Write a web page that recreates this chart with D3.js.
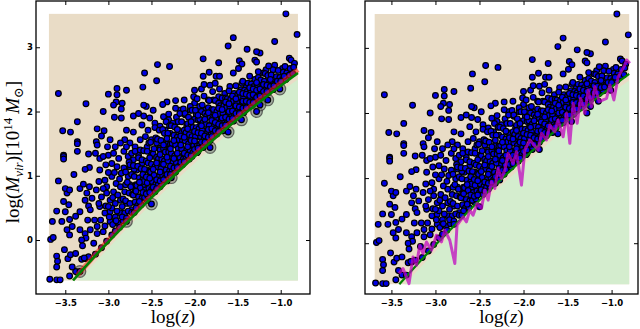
<!DOCTYPE html>
<html>
<head>
<meta charset="utf-8">
<script src="https://cdn.jsdelivr.net/npm/d3@7"></script>
<style>
  body { margin: 0; background: #fff; }
  svg { display: block; }
  .tick text { font-family: 'DejaVu Sans', sans-serif; font-weight: bold; font-size: 8.5px; fill: #000; }
  .axlabel { font-family: 'Liberation Serif', 'DejaVu Serif', serif; font-size: 19px; fill: #000; }
</style>
</head>
<body>
<svg id="chart" width="640" height="329"></svg>
<script>
// ---- data (log z, log M_vir) ----
var xTicks = [-3.5, -3.0, -2.5, -2.0, -1.5, -1.0];
var yTicks = [0, 1, 2, 3];

// extent of the sample (tan box)
var sampleX = [-3.69, -0.80];
var sampleY = [-0.63, 3.52];

// mass limit curve (green) and its red twin
var limitX = [-3.41, -3.1, -2.8, -2.5, -2.2, -1.9, -1.6, -1.3, -1.0, -0.8];
var limitY = [-0.63, -0.17, 0.25, 0.66, 1.05, 1.42, 1.77, 2.09, 2.40, 2.60];
var redX = [-3.36, -3.1, -2.8, -2.5, -2.2, -1.9, -1.6, -1.3, -1.0, -0.8];
var redY = [-0.55, -0.15, 0.28, 0.69, 1.08, 1.45, 1.80, 2.13, 2.44, 2.65];
// upper edge of the green (excluded) region
var fillX = [-3.35, -3.1, -2.8, -2.5, -2.2, -1.9, -1.6, -1.3, -1.0, -0.8];
var fillY = [-0.63, -0.27, 0.16, 0.57, 0.95, 1.32, 1.67, 2.00, 2.31, 2.50];

// magenta running curve, right panel
var magX = [-3.414, -3.368, -3.300, -3.255, -3.216, -3.178, -3.141, -3.102, -3.045, -2.989, -2.932, -2.894, -2.837, -2.780, -2.755,
  -2.686, -2.648, -2.610, -2.573, -2.527, -2.477, -2.440, -2.402, -2.364, -2.326, -2.289, -2.250, -2.212, -2.175, -2.118, -2.080,
  -2.023, -1.985, -1.928, -1.834, -1.795, -1.739, -1.701, -1.644, -1.607, -1.550, -1.511, -1.474, -1.436, -1.391, -1.352, -1.303,
  -1.266, -1.227, -1.190, -1.141, -1.057, -1.019, -0.974, -0.925, -0.849, -0.830, -0.792];
var magY = [-0.466, -0.389, -0.620, -0.211, -0.338, -0.031, -0.158, 0.020, -0.108, 0.123, 0.020, 0.200, 0.046, -0.312, 0.277,
  0.405, 0.328, 0.508, 0.431, 0.611, 0.534, 0.815, 0.662, 0.943, 0.842, 1.149, 0.995, 1.123, 1.380, 1.226, 1.405,
  0.892, 1.431, 1.585, 1.431, 1.688, 1.585, 1.815, 1.712, 1.892, 1.635, 1.995, 1.534, 2.149, 1.842, 2.226, 1.995,
  2.354, 2.097, 2.405, 2.174, 2.226, 2.431, 2.200, 2.558, 2.738, 2.815, 2.764];

// clusters sitting on the limit (ringed in the left panel)
var ringPts = [[-3.33, -0.49], [-2.79, 0.29], [-2.50, 0.56], [-2.27, 0.97], [-1.82, 1.44], [-1.61, 1.68],
  [-1.455, 1.87], [-1.28, 2.00], [-1.15, 2.18], [-1.24, 2.10], [-1.01, 2.35]];

// scattered clusters
var scatterPts = [
  [-0.94, 3.52], [-0.81, 3.20], [-1.55, 3.15], [-1.61, 3.02], [-1.07, 3.09], [-1.39, 2.97], [-1.30, 2.80], [-1.28, 2.77],
  [-1.48, 2.79], [-1.90, 2.82], [-1.24, 2.91], [-1.28, 2.93], [-1.72, 2.76], [-2.43, 2.73], [-2.29, 2.70], [-2.58, 2.60],
  [-2.44, 2.48], [-0.90, 2.83], [-0.88, 2.80], [-0.84, 2.75], [-0.98, 2.67], [-1.07, 2.72], [-1.09, 2.65], [-1.17, 2.65],
  [-1.14, 2.71], [-1.20, 2.60], [-1.26, 2.62], [-1.45, 2.74], [-1.49, 2.67], [-1.55, 2.60], [-0.99, 2.53], [-1.12, 2.35],
  [-1.83, 2.61], [-1.90, 2.55], [-1.75, 2.55], [-1.71, 2.55], [-2.00, 2.33], [-1.92, 2.35], [-1.89, 2.42], [-1.82, 2.41],
  [-1.76, 2.44], [-2.01, 2.23], [-2.12, 2.18], [-2.22, 2.17], [-2.32, 2.15], [-2.37, 2.11], [-2.48, 2.02], [-2.56, 2.08],
  [-2.59, 2.10], [-2.60, 2.38], [-2.90, 2.36], [-2.90, 2.26], [-2.79, 2.33], [-3.00, 2.27], [-2.91, 2.15], [-2.94, 2.10],
  [-2.84, 2.13], [-2.85, 2.04], [-2.85, 1.90], [-2.93, 1.91], [-3.06, 2.00], [-3.26, 2.12], [-2.71, 1.93], [-2.65, 1.97],
  [-2.59, 1.93], [-2.61, 1.79], [-3.13, 1.73], [-3.05, 1.70], [-2.79, 1.71], [-2.71, 1.68], [-3.53, 1.70], [-3.44, 1.68],
  [-3.36, 1.84], [-3.36, 1.53], [-3.36, 1.50], [-3.36, 1.38], [-3.52, 1.32], [-3.52, 1.30], [-3.52, 1.26], [-3.58, 0.92],
  [-3.58, 2.28], [-3.14, 1.53], [-3.13, 1.48], [-3.08, 1.62], [-3.01, 1.45], [-3.00, 1.32], [-3.15, 1.35], [-3.10, 1.27],
  [-3.23, 1.34], [-3.22, 1.13], [-3.27, 1.10], [-3.40, 1.02], [-3.60, 0.45], [-3.65, 0.29], [-3.54, 0.29], [-3.67, 0.01],
  [-3.64, 0.04], [-3.60, -0.25], [-3.59, -0.33], [-3.60, -0.42], [-3.68, -0.61], [-3.60, -0.62], [-3.56, -0.62], [-3.45, -0.56],
  [-3.38, -0.49], [-3.42, -0.42], [-3.47, -0.29], [-3.44, -0.23], [-3.38, -0.21], [-3.51, -0.15], [-3.31, -0.30], [-3.27, -0.29],
  [-3.23, -0.26], [-3.30, -0.09], [-3.45, 0.08], [-3.48, 0.16], [-3.42, 0.21], [-3.33, 0.16], [-3.45, 0.32], [-3.38, 0.37],
  [-3.33, 0.44], [-3.50, 0.44], [-3.46, 0.55], [-3.52, 0.60], [-3.48, 0.73], [-3.50, 0.80], [-3.45, 0.78], [-3.33, 0.80],
  [-3.29, 0.87], [-3.25, 0.73], [-3.27, 0.62], [-3.19, 0.65], [-3.22, 0.83], [-3.14, 0.78], [-3.23, 0.53], [-3.21, 0.47],
  [-3.24, 0.31], [-3.16, 0.31], [-3.13, 0.21], [-3.21, 0.16], [-3.27, 0.10], [-3.26, 0.03], [-3.31, 0.00], [-3.13, 0.10],
  [-3.06, 0.13], [-3.09, 0.31], [-3.04, 0.42], [-3.10, 0.52], [-3.03, 0.53], [-2.98, 0.44], [-2.92, 0.36], [-2.98, 0.29],
  [-2.88, 0.26], [-2.86, 0.42], [-2.81, 0.42], [-2.73, 0.47], [-2.67, 0.57], [-2.63, 0.67], [-2.71, 0.70], [-2.79, 0.57],
  [-2.86, 0.62], [-2.92, 0.57], [-2.98, 0.62], [-3.02, 0.73], [-3.08, 0.67], [-3.11, 0.57], [-3.11, 0.91], [-3.04, 0.93],
  [-3.02, 0.83], [-2.96, 0.99], [-2.91, 0.88], [-2.94, 0.75], [-2.86, 0.83], [-2.81, 0.75], [-2.75, 0.86], [-2.69, 0.78],
  [-2.77, 0.99], [-2.85, 1.04], [-2.90, 1.14], [-2.96, 1.19], [-3.03, 1.17], [-3.10, 1.09], [-3.06, 1.30], [-2.94, 1.35],
  [-2.88, 1.27], [-2.82, 1.38], [-2.77, 1.30], [-2.71, 1.25], [-2.75, 1.14], [-2.67, 1.09], [-2.63, 0.96], [-2.59, 0.86],
  [-2.54, 0.75], [-2.55, 0.62], [-2.48, 0.86], [-2.44, 0.93], [-2.50, 1.01], [-2.55, 1.09], [-2.61, 1.19], [-2.65, 1.32],
  [-2.69, 1.45], [-2.75, 1.51], [-2.81, 1.56], [-2.86, 1.51], [-2.92, 1.45], [-2.98, 1.56], [-2.63, 1.56], [-2.55, 1.45],
  [-2.50, 1.35], [-2.44, 1.27], [-2.40, 1.17], [-2.34, 1.09], [-2.36, 0.99], [-2.40, 0.83], [-2.32, 0.92], [-2.50, 1.56],
  [-2.44, 1.51], [-2.40, 1.43], [-2.34, 1.40], [-2.28, 1.30], [-2.25, 1.19], [-2.21, 1.12], [-2.15, 1.30], [-2.09, 1.35],
  [-2.17, 1.45], [-2.23, 1.56], [-2.28, 1.66], [-2.34, 1.71], [-2.40, 1.77], [-2.46, 1.82], [-2.52, 1.90], [-2.54, 1.71],
  [-2.36, 1.92], [-2.30, 1.87], [-2.25, 1.82], [-2.19, 1.71], [-2.13, 1.66], [-2.07, 1.56], [-2.01, 1.45], [-1.96, 1.38],
  [-1.90, 1.44], [-2.03, 1.30], [-1.97, 1.36], [-2.17, 2.02], [-2.11, 1.95], [-2.05, 2.02], [-2.00, 2.13], [-1.94, 2.08],
  [-1.98, 1.95], [-2.03, 1.87], [-2.09, 1.77], [-2.01, 1.71], [-1.94, 1.77], [-1.90, 1.66], [-1.96, 1.61], [-1.84, 1.61],
  [-1.78, 1.66], [-1.74, 1.77], [-1.80, 1.82], [-1.86, 1.92], [-1.78, 1.97], [-1.71, 1.87], [-1.67, 1.97], [-1.63, 2.08],
  [-1.69, 2.13], [-1.59, 2.18], [-1.55, 2.08], [-1.51, 2.18], [-1.47, 2.26], [-1.42, 2.18], [-1.38, 2.28], [-1.32, 2.18],
  [-1.28, 2.34], [-1.22, 2.28], [-1.17, 2.39], [-1.20, 2.44], [-1.32, 2.44], [-1.40, 2.39], [-1.45, 2.44], [-1.59, 2.39],
  [-1.65, 2.28], [-1.72, 2.23], [-1.78, 2.18], [-1.84, 2.18], [-1.88, 2.02], [-1.59, 1.92], [-1.55, 1.85], [-1.63, 1.77],
  [-1.67, 1.70], [-1.51, 1.92], [-1.45, 2.02], [-1.38, 2.08], [-1.32, 2.12], [-1.43, 1.98], [-1.26, 2.16], [-1.20, 2.25],
  [-1.14, 2.30], [-1.09, 2.34], [-3.28, -0.28], [-3.15, -0.22], [-3.08, -0.12], [-3.02, -0.02], [-2.96, 0.08], [-2.92, 0.14],
  [-2.87, 0.20], [-2.83, 0.30], [-3.17, -0.05], [-3.04, 0.22], [-2.95, 0.24], [-2.90, 0.45], [-2.84, 0.52], [-2.96, 0.50],
  [-2.99, 0.36], [-2.95, 0.66], [-2.89, 0.70], [-2.83, 0.64], [-2.80, 0.86], [-2.87, 0.95], [-2.93, 1.05], [-2.82, 1.12],
  [-2.79, 1.45], [-2.73, 1.35], [-2.70, 1.10], [-2.84, 0.36], [-2.91, 0.30], [-3.00, 0.52], [-3.06, 0.80], [-3.00, 1.05]
];

// the crowded band just above the limit, read strip by strip
var bandPts = [
  [-2.79, 0.34], [-2.77, 0.45], [-2.80, 0.61], [-2.76, 0.73], [-2.78, 0.90], [-2.80, 1.06], [-2.76, 1.21],
  [-2.73, 0.43], [-2.75, 0.57], [-2.72, 0.71], [-2.74, 0.83], [-2.73, 1.02], [-2.75, 1.17],
  [-2.70, 0.43], [-2.69, 0.59], [-2.71, 0.70], [-2.68, 0.86], [-2.70, 0.99], [-2.71, 1.16], [-2.69, 1.38],
  [-2.66, 0.54], [-2.65, 0.67], [-2.67, 0.85], [-2.64, 0.97], [-2.66, 1.15], [-2.65, 1.28],
  [-2.62, 0.55], [-2.61, 0.65], [-2.63, 0.81], [-2.60, 0.94], [-2.62, 1.11], [-2.61, 1.25], [-2.63, 1.40],
  [-2.58, 0.66], [-2.57, 0.78], [-2.59, 0.91], [-2.58, 1.10], [-2.56, 1.23], [-2.59, 1.39], [-2.57, 1.61],
  [-2.54, 0.68], [-2.53, 0.80], [-2.55, 0.89], [-2.52, 1.07], [-2.54, 1.20], [-2.55, 1.38], [-2.53, 1.51],
  [-2.50, 0.78], [-2.49, 0.91], [-2.51, 1.06], [-2.50, 1.18], [-2.48, 1.34], [-2.51, 1.52],
  [-2.46, 0.75], [-2.45, 0.87], [-2.47, 1.01], [-2.46, 1.14], [-2.44, 1.29], [-2.47, 1.42], [-2.45, 1.59], [-2.46, 1.75],
  [-2.42, 0.86], [-2.41, 0.98], [-2.43, 1.14], [-2.42, 1.26], [-2.40, 1.40], [-2.43, 1.57], [-2.41, 1.71],
  [-2.38, 0.87], [-2.37, 1.00], [-2.39, 1.11], [-2.38, 1.26], [-2.36, 1.42], [-2.39, 1.55], [-2.37, 1.72],
  [-2.34, 0.97], [-2.33, 1.09], [-2.35, 1.23], [-2.34, 1.37], [-2.32, 1.50], [-2.35, 1.66], [-2.33, 1.84],
  [-2.30, 0.98], [-2.29, 1.07], [-2.31, 1.23], [-2.30, 1.37], [-2.28, 1.49], [-2.31, 1.66], [-2.29, 1.78], [-2.30, 1.96],
  [-2.26, 1.08], [-2.25, 1.21], [-2.27, 1.35], [-2.26, 1.50], [-2.24, 1.63], [-2.27, 1.78],
  [-2.22, 1.06], [-2.21, 1.20], [-2.23, 1.31], [-2.22, 1.48], [-2.20, 1.60], [-2.23, 1.76], [-2.21, 1.91], [-2.22, 2.05],
  [-2.18, 1.15], [-2.17, 1.28], [-2.19, 1.42], [-2.18, 1.56], [-2.16, 1.68], [-2.19, 1.84], [-2.17, 1.97],
  [-2.14, 1.17], [-2.13, 1.26], [-2.15, 1.42], [-2.14, 1.55], [-2.12, 1.71], [-2.15, 1.84], [-2.13, 2.04],
  [-2.10, 1.27], [-2.09, 1.40], [-2.11, 1.54], [-2.10, 1.67], [-2.08, 1.81], [-2.11, 1.97],
  [-2.06, 1.26], [-2.05, 1.39], [-2.07, 1.50], [-2.06, 1.64], [-2.04, 1.79], [-2.07, 1.91], [-2.05, 2.08],
  [-2.02, 1.36], [-2.01, 1.47], [-2.03, 1.61], [-2.02, 1.75], [-2.00, 1.88], [-2.03, 2.02],
  [-1.98, 1.38], [-1.97, 1.48], [-1.99, 1.61], [-1.98, 1.75], [-1.96, 1.87], [-1.99, 2.02], [-1.97, 2.20],
  [-1.94, 1.48], [-1.93, 1.61], [-1.95, 1.73], [-1.94, 1.88], [-1.92, 2.00],
  [-1.90, 1.47], [-1.89, 1.57], [-1.91, 1.71], [-1.90, 1.83], [-1.88, 1.97], [-1.91, 2.10], [-1.89, 2.24],
  [-1.86, 1.55], [-1.85, 1.67], [-1.87, 1.80], [-1.86, 1.93], [-1.84, 2.06],
  [-1.82, 1.55], [-1.81, 1.64], [-1.83, 1.78], [-1.82, 1.91], [-1.80, 2.03], [-1.83, 2.17],
  [-1.78, 1.66], [-1.77, 1.78], [-1.79, 1.89], [-1.78, 2.03], [-1.76, 2.17], [-1.79, 2.31],
  [-1.74, 1.65], [-1.73, 1.77], [-1.75, 1.88], [-1.74, 2.00], [-1.72, 2.13],
  [-1.70, 1.73], [-1.69, 1.84], [-1.71, 1.96], [-1.70, 2.09], [-1.68, 2.21], [-1.71, 2.35],
  [-1.66, 1.74], [-1.65, 1.84], [-1.67, 1.97], [-1.66, 2.09], [-1.64, 2.21],
  [-1.62, 1.83], [-1.61, 1.95], [-1.63, 2.06], [-1.62, 2.20], [-1.60, 2.32],
  [-1.58, 1.84], [-1.57, 1.95], [-1.59, 2.07], [-1.58, 2.19],
  [-1.54, 1.93], [-1.53, 2.03], [-1.55, 2.16], [-1.54, 2.28], [-1.52, 2.40],
  [-1.50, 1.92], [-1.49, 2.03], [-1.51, 2.14], [-1.50, 2.26],
  [-1.46, 2.00], [-1.45, 2.11], [-1.47, 2.23], [-1.46, 2.34], [-1.44, 2.47],
  [-1.42, 2.01], [-1.41, 2.10], [-1.43, 2.22], [-1.42, 2.33],
  [-1.38, 2.10], [-1.37, 2.21], [-1.39, 2.31], [-1.38, 2.44], [-1.36, 2.55],
  [-1.34, 2.09], [-1.33, 2.20], [-1.35, 2.32], [-1.34, 2.43],
  [-1.30, 2.17], [-1.29, 2.27], [-1.31, 2.39], [-1.30, 2.50],
  [-1.26, 2.19], [-1.25, 2.30], [-1.27, 2.40], [-1.26, 2.53],
  [-1.22, 2.28], [-1.21, 2.38], [-1.23, 2.49],
  [-1.18, 2.26], [-1.17, 2.36], [-1.19, 2.47], [-1.18, 2.59],
  [-1.14, 2.34], [-1.13, 2.45], [-1.15, 2.56],
  [-1.10, 2.35], [-1.09, 2.46], [-1.11, 2.57],
  [-1.06, 2.43], [-1.05, 2.54],
  [-1.02, 2.43], [-1.01, 2.53], [-1.03, 2.64],
  [-0.98, 2.50], [-0.97, 2.61],
  [-0.94, 2.50], [-0.93, 2.60], [-0.95, 2.70],
  [-0.90, 2.57], [-0.89, 2.67],
  [-0.86, 2.59], [-0.85, 2.69]
];

// second pass over the same band, between the first strips
var bandFill = [
  [-2.68, 0.50], [-2.68, 0.76], [-2.64, 0.60], [-2.64, 0.90], [-2.60, 0.74], [-2.60, 1.02], [-2.56, 0.72], [-2.56, 0.98],
  [-2.52, 0.74], [-2.52, 0.96], [-2.52, 1.28], [-2.48, 0.82], [-2.48, 1.10], [-2.44, 0.80], [-2.44, 0.94], [-2.44, 1.20],
  [-2.40, 0.92], [-2.40, 1.06], [-2.40, 1.33], [-2.36, 0.94], [-2.36, 1.18], [-2.36, 1.48], [-2.32, 1.02], [-2.32, 1.29],
  [-2.32, 1.58], [-2.28, 1.02], [-2.28, 1.15], [-2.28, 1.42], [-2.24, 1.12], [-2.24, 1.27], [-2.24, 1.55], [-2.20, 1.13],
  [-2.20, 1.35], [-2.20, 1.72], [-2.16, 1.21], [-2.16, 1.48], [-2.16, 1.62], [-2.12, 1.22], [-2.12, 1.35], [-2.12, 1.60],
  [-2.08, 1.32], [-2.08, 1.45], [-2.08, 1.73], [-2.04, 1.31], [-2.04, 1.55], [-2.04, 1.84], [-2.00, 1.41], [-2.00, 1.54],
  [-2.00, 1.69], [-1.96, 1.43], [-1.96, 1.67], [-1.96, 1.94], [-1.92, 1.52], [-1.92, 1.66], [-1.92, 1.78], [-1.88, 1.52],
  [-1.88, 1.62], [-1.88, 1.88], [-1.84, 1.60], [-1.84, 1.72], [-1.84, 1.98], [-1.80, 1.61], [-1.80, 1.73], [-1.80, 1.86],
  [-1.76, 1.70], [-1.76, 1.83], [-1.76, 1.94], [-1.72, 1.69], [-1.72, 1.80], [-1.72, 2.05], [-1.68, 1.78], [-1.68, 1.90],
  [-1.68, 2.03], [-1.64, 1.79], [-1.64, 1.91], [-1.64, 2.15], [-1.60, 1.88], [-1.60, 2.00], [-1.60, 2.12], [-1.56, 1.89],
  [-1.56, 2.01], [-1.56, 2.24], [-1.52, 1.97], [-1.52, 2.09], [-1.52, 2.20], [-1.48, 1.97], [-1.48, 2.07], [-1.48, 2.30],
  [-1.44, 2.05], [-1.44, 2.16], [-1.44, 2.28], [-1.40, 2.06], [-1.40, 2.16], [-1.40, 2.27], [-1.36, 2.14], [-1.36, 2.25],
  [-1.36, 2.37], [-1.32, 2.14], [-1.32, 2.26], [-1.32, 2.35], [-1.28, 2.22], [-1.28, 2.33], [-1.28, 2.45], [-1.24, 2.24],
  [-1.24, 2.35], [-1.20, 2.31], [-1.20, 2.42], [-1.16, 2.31], [-1.16, 2.41], [-1.12, 2.39], [-1.12, 2.50], [-1.08, 2.40],
  [-1.04, 2.47], [-1.00, 2.47], [-0.96, 2.55]
];

var allPts = scatterPts.concat(bandPts, bandFill, ringPts);

var zip = function(xs, ys) { return xs.map(function(v, i) { return [v, ys[i]]; }); };

var svg = d3.select('#chart');

function drawPanel(p) {
  var x = d3.scaleLinear().domain(p.xlim).range([p.left, p.right]);
  var y = d3.scaleLinear().domain(p.ylim).range([p.bottom, p.top]);
  var g = svg.append('g');

  // tan sample box
  g.append('rect')
    .attr('x', x(sampleX[0])).attr('y', y(sampleY[1]))
    .attr('width', x(sampleX[1]) - x(sampleX[0]))
    .attr('height', y(sampleY[0]) - y(sampleY[1]))
    .attr('fill', '#e9dcc6');

  // green excluded region under the limit
  var poly = zip(fillX, fillY).concat([[fillX[fillX.length - 1], sampleY[0]], [fillX[0], sampleY[0]]]);
  g.append('path')
    .attr('d', d3.line().x(d => x(d[0])).y(d => y(d[1]))(poly) + 'Z')
    .attr('fill', '#d4edce');

  var line = d3.line().x(d => x(d[0])).y(d => y(d[1])).curve(d3.curveMonotoneX);

  if (p.rings) {
    g.selectAll('.ring').data(ringPts).enter().append('circle')
      .attr('cx', d => x(d[0])).attr('cy', d => y(d[1])).attr('r', 5.8)
      .attr('fill', '#777').attr('fill-opacity', 0.55)
      .attr('stroke', '#333').attr('stroke-opacity', 0.7).attr('stroke-width', 1.2);
  }

  g.selectAll('.pt').data(allPts).enter().append('circle')
    .attr('cx', d => x(d[0])).attr('cy', d => y(d[1])).attr('r', 2.85)
    .attr('fill', '#0000e6').attr('stroke', '#000').attr('stroke-width', 1.2);

  if (p.red) {
    g.append('path').attr('d', line(zip(redX, redY)))
      .attr('fill', 'none').attr('stroke', '#ff2010').attr('stroke-opacity', 0.55).attr('stroke-width', 5);
  }
  g.append('path').attr('d', line(zip(limitX, limitY)))
    .attr('fill', 'none').attr('stroke', '#008000').attr('stroke-width', p.red ? 2.6 : 2.2);

  if (p.magenta) {
    g.append('path').attr('d', d3.line().x(d => x(d[0])).y(d => y(d[1]))(zip(magX, magY)))
      .attr('fill', 'none').attr('stroke', '#bf00bf').attr('stroke-opacity', 0.72)
      .attr('stroke-width', 3).attr('stroke-linejoin', 'round');
  }

  // axes, ticks pointing inward on every side
  var fmt = d3.format('.1f');
  g.append('g').attr('transform', `translate(0,${p.bottom})`)
    .call(d3.axisBottom(x).tickValues(xTicks).tickFormat(fmt).tickSizeInner(-4).tickSizeOuter(0).tickPadding(5.5));
  g.append('g').attr('transform', `translate(0,${p.top})`)
    .call(d3.axisTop(x).tickValues(xTicks).tickFormat('').tickSizeInner(-4).tickSizeOuter(0));
  g.append('g').attr('transform', `translate(${p.left},0)`)
    .call(d3.axisLeft(y).tickValues(yTicks).tickFormat(p.yLabels ? d3.format('d') : '').tickSizeInner(-4).tickSizeOuter(0).tickPadding(3));
  g.append('g').attr('transform', `translate(${p.right},0)`)
    .call(d3.axisRight(y).tickValues(yTicks).tickFormat('').tickSizeInner(-4).tickSizeOuter(0));
  g.selectAll('.domain').remove();
  g.selectAll('.tick line').attr('stroke', '#000').attr('stroke-width', 1);

  g.append('rect')
    .attr('x', p.left).attr('y', p.top)
    .attr('width', p.right - p.left).attr('height', p.bottom - p.top)
    .attr('fill', 'none').attr('stroke', '#000').attr('stroke-width', 1.3);

  // x label: log(z)
  var xl = g.append('text').attr('class', 'axlabel')
    .attr('x', (p.left + p.right) / 2).attr('y', 323).attr('text-anchor', 'middle');
  xl.append('tspan').text('log(');
  xl.append('tspan').attr('font-style', 'italic').text('z');
  xl.append('tspan').text(')');
}

drawPanel({left: 36, right: 310, top: 1, bottom: 294, xlim: [-3.84, -0.66], ylim: [-0.84, 3.72],
  rings: true, red: true, magenta: false, yLabels: true});
drawPanel({left: 365, right: 638, top: 1, bottom: 294, xlim: [-3.80, -0.70], ylim: [-0.78, 3.72],
  rings: false, red: false, magenta: true, yLabels: false});

// y label: log(M_vir)[10^14 M_sun]
var yl = svg.append('text').attr('class', 'axlabel')
  .attr('transform', 'translate(19,152) rotate(-90)').attr('text-anchor', 'middle');
yl.append('tspan').text('log(');
yl.append('tspan').attr('font-style', 'italic').text('M');
yl.append('tspan').attr('font-style', 'italic').attr('font-size', '13px').attr('dy', 4).text('vir');
yl.append('tspan').attr('dy', -4).text(')[10');
yl.append('tspan').attr('font-size', '13px').attr('dy', -7).text('14');
yl.append('tspan').attr('dy', 7).text('\u2009');
yl.append('tspan').attr('font-style', 'italic').text('M');
yl.append('tspan').attr('font-size', '13px').attr('dy', 4).text('\u2299');
yl.append('tspan').attr('dy', -4).text(']');
</script>
</body>
</html>
